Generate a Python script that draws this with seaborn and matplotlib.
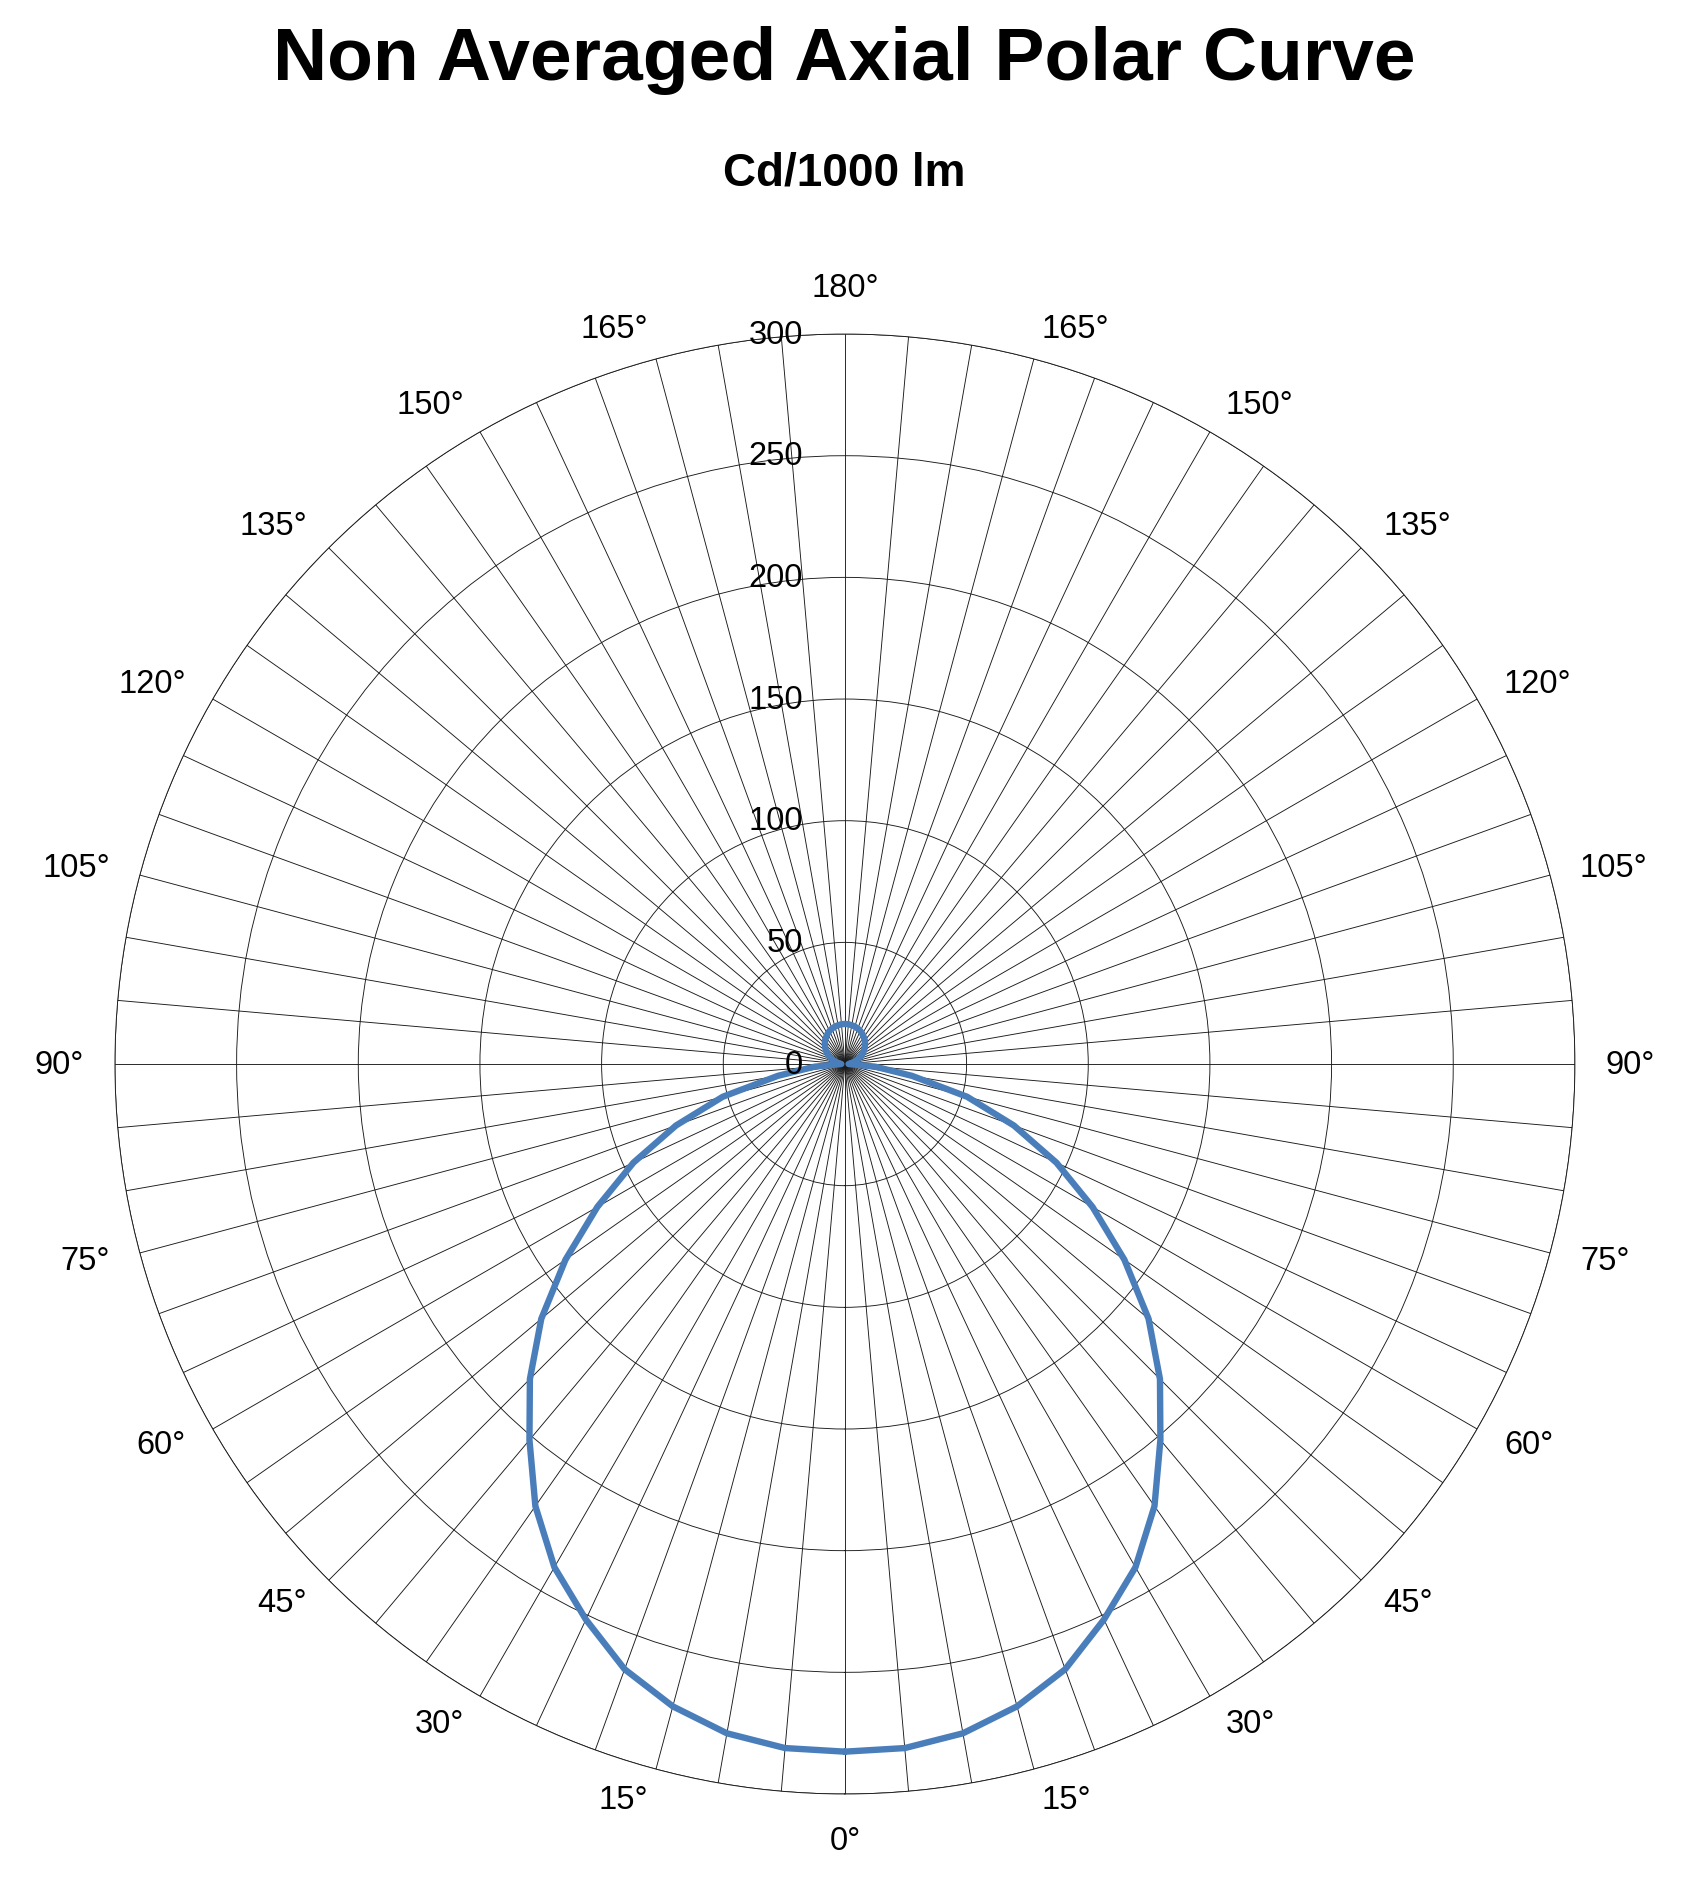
import numpy as np
import pandas as pd
import matplotlib
matplotlib.use('Agg')
import matplotlib.pyplot as plt
import matplotlib.transforms as mtransforms
import seaborn as sns

sns.set_style('white')
plt.rcParams['font.family'] = ['Liberation Sans', 'DejaVu Sans']
plt.rcParams['text.color'] = 'black'
plt.rcParams['xtick.color'] = 'black'
plt.rcParams['ytick.color'] = 'black'

# gamma angles (deg) of one half plane, 0 = straight down, 180 = straight up
gamma = [0, 5, 10, 15, 20, 25, 30, 35, 40, 45, 50, 55, 60, 65, 70, 75, 80, 85, 90,
         95, 100, 105, 110, 115, 120, 125, 130, 135, 140, 145, 150, 155, 160, 165,
         170, 175, 180]

# cd/1000 lm (both half planes look the same)
cd_left = [282.6, 282.2, 279.3, 273.3, 264.7, 251.9, 238.8, 221.8, 201.7, 183.1,
           162.9, 140.2, 117.5, 95.9, 73.9, 52.0, 28.0, 12.5, 1.5,
           2.0, 3.0, 4.3, 5.6, 7.0, 8.3, 9.5, 10.6, 11.7, 12.7, 13.5, 14.3,
           15.0, 15.5, 15.9, 16.2, 16.4, 16.5]
cd_right = list(cd_left)

ring_ticks = [0, 50, 100, 150, 200, 250, 300]
label_every = 15

# build the closed curve: left side goes 0 -> 180, right side comes back 180 -> 0
theta_deg = gamma + [360 - g for g in gamma[::-1][1:]]
values = cd_left + cd_right[::-1][1:]
df = pd.DataFrame({'theta': np.deg2rad(theta_deg), 'cd': values})

fig = plt.figure(figsize=(16.88, 18.81), dpi=100)
ax = fig.add_axes([0.0681, 0.0457, 0.8649, 0.7762], projection='polar')
ax.set_theta_zero_location('S')
ax.set_theta_direction(-1)

sns.lineplot(data=df, x='theta', y='cd', sort=False, estimator=None,
             color='#4A7EBB', linewidth=4.6, ax=ax, zorder=5)

ax.set_ylim(0, 300)
ax.set_yticks(ring_ticks[1:])
ax.set_yticklabels([])

# spokes every 5 deg
spokes = list(range(0, 360, 5))
ax.set_xticks(np.deg2rad(spokes))
ax.set_xticklabels([])

ax.grid(True, color='#1a1a1a', linewidth=0.65)
ax.spines['polar'].set_color('#1a1a1a')
ax.spines['polar'].set_linewidth(0.65)
ax.set_xlabel('')
ax.set_ylabel('')

# angle labels every 15 deg, placed just outside the outer ring
gap = 31
for s in range(0, 360, label_every):
    g = s if s <= 180 else 360 - s
    ux = -np.sin(np.deg2rad(s))
    uy = -np.cos(np.deg2rad(s))
    if abs(ux) < 0.01:
        ha = 'center'
        va = 'bottom' if uy > 0 else 'top'
    else:
        ha = 'right' if ux < 0 else 'left'
        va = 'center'
    tr = mtransforms.offset_copy(ax.transData, fig=fig, x=gap * ux, y=gap * uy,
                                 units='dots')
    ax.text(np.deg2rad(s), 300, f'{g}°', transform=tr, ha=ha, va=va,
            fontsize=23.5, clip_on=False)

# radial labels on the upward spoke
off = mtransforms.offset_copy(ax.transData, fig=fig, x=-42, y=0, units='dots')
for r in ring_ticks:
    ax.text(np.pi, r, str(r), transform=off, ha='right', va='center',
            fontsize=23.5, zorder=6)

fig.text(0.5, 0.968, 'Non Averaged Axial Polar Curve', ha='center', va='center',
         fontsize=54, fontweight='bold')
fig.text(0.5, 0.908, 'Cd/1000 lm', ha='center', va='center',
         fontsize=33, fontweight='bold')

fig.savefig('out.png', dpi=100, facecolor='white')
